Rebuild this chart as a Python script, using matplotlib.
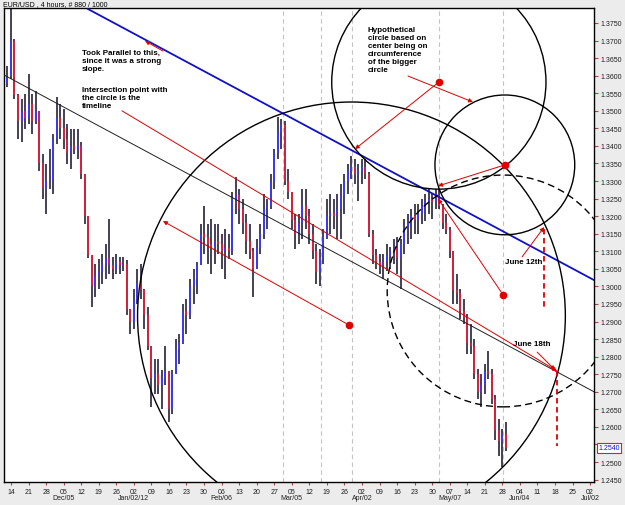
import numpy as np
import matplotlib
matplotlib.use("Agg")
import matplotlib.pyplot as plt
from matplotlib.patches import Ellipse
import matplotlib.transforms as mtransforms

plt.rcParams['font.family'] = ['Liberation Sans', 'DejaVu Sans']

# ---------------- data (trading-day index: 0 = Mon 14 Nov 2011) ----------------
day_index = list(range(-1, 142))
first_open = 1.3580
highs = [1.3627, 1.3790, 1.3704, 1.3548, 1.3533, 1.3548, 1.3605, 1.3548, 1.3556, 1.3500,
         1.3377, 1.3348, 1.3391, 1.3434, 1.3539, 1.3519, 1.3505, 1.3462, 1.3448, 1.3448,
         1.3448, 1.3410, 1.3320, 1.3200, 1.3090, 1.3063, 1.3077, 1.3092, 1.3120, 1.3191,
         1.3083, 1.3092, 1.3083, 1.3083, 1.3075, 1.2935, 1.2992, 1.3049, 1.3063, 1.2992,
         1.2940, 1.2830, 1.2792, 1.2792, 1.2763, 1.2830, 1.2760, 1.2763, 1.2849, 1.2864,
         1.2950, 1.2964, 1.3020, 1.3049, 1.3070, 1.3177, 1.3228, 1.3177, 1.3191, 1.3177,
         1.3177, 1.3149, 1.3163, 1.3149, 1.3270, 1.3311, 1.3277, 1.3248, 1.3206, 1.3177,
         1.3109, 1.3134, 1.3177, 1.3263, 1.3248, 1.3320, 1.3391, 1.3482, 1.3476, 1.3470,
         1.3334, 1.3270, 1.3206, 1.3206, 1.3277, 1.3277, 1.3220, 1.3177, 1.3120, 1.3106,
         1.3163, 1.3248, 1.3263, 1.3248, 1.3263, 1.3291, 1.3320, 1.3348, 1.3371, 1.3362,
         1.3348, 1.3362, 1.3362, 1.3325, 1.3160, 1.3106, 1.3092, 1.3092, 1.3120, 1.3112,
         1.3134, 1.3140, 1.3134, 1.3191, 1.3206, 1.3220, 1.3234, 1.3234, 1.3248, 1.3263,
         1.3277, 1.3263, 1.3277, 1.3277, 1.3234, 1.3206, 1.3170, 1.3100, 1.3035, 1.2992,
         1.2964, 1.2921, 1.2892, 1.2849, 1.2764, 1.2750, 1.2778, 1.2815, 1.2764, 1.2690,
         1.2622, 1.2593, 1.2613]
lows = [1.3568, 1.3590, 1.3533, 1.3420, 1.3411, 1.3448, 1.3462, 1.3434, 1.3462, 1.3328,
        1.3248, 1.3206, 1.3277, 1.3263, 1.3405, 1.3419, 1.3391, 1.3348, 1.3334, 1.3376,
        1.3362, 1.3305, 1.3177, 1.3080, 1.2941, 1.2970, 1.2992, 1.3006, 1.3020, 1.3035,
        1.3020, 1.3035, 1.3035, 1.3043, 1.2920, 1.2864, 1.2878, 1.2950, 1.2964, 1.2878,
        1.2820, 1.2656, 1.2693, 1.2693, 1.2650, 1.2720, 1.2613, 1.2636, 1.2750, 1.2778,
        1.2835, 1.2864, 1.2906, 1.2950, 1.2978, 1.3060, 1.3092, 1.3063, 1.3035, 1.3063,
        1.3092, 1.3049, 1.3020, 1.3077, 1.3090, 1.3206, 1.3177, 1.3149, 1.3092, 1.3077,
        1.2969, 1.3049, 1.3092, 1.3134, 1.3163, 1.3220, 1.3277, 1.3362, 1.3391, 1.3290,
        1.3248, 1.3163, 1.3106, 1.3120, 1.3134, 1.3163, 1.3120, 1.3077, 1.3006, 1.3000,
        1.3063, 1.3134, 1.3149, 1.3163, 1.3134, 1.3134, 1.3206, 1.3263, 1.3305, 1.3291,
        1.3243, 1.3291, 1.3305, 1.3140, 1.3063, 1.3049, 1.3035, 1.3020, 1.3043, 1.3049,
        1.3063, 1.3035, 1.2992, 1.3092, 1.3120, 1.3134, 1.3149, 1.3149, 1.3177, 1.3186,
        1.3206, 1.3191, 1.3220, 1.3220, 1.3163, 1.3149, 1.3080, 1.2950, 1.2950, 1.2906,
        1.2892, 1.2807, 1.2807, 1.2735, 1.2678, 1.2658, 1.2693, 1.2735, 1.2664, 1.2564,
        1.2516, 1.2487, 1.2530]
closes = [1.3600, 1.3700, 1.3545, 1.3470, 1.3500, 1.3480, 1.3520, 1.3470, 1.3500, 1.3350,
          1.3280, 1.3300, 1.3300, 1.3420, 1.3480, 1.3450, 1.3420, 1.3380, 1.3400, 1.3390,
          1.3400, 1.3320, 1.3200, 1.3090, 1.3000, 1.3030, 1.3040, 1.3060, 1.3080, 1.3060,
          1.3050, 1.3070, 1.3060, 1.3065, 1.2935, 1.2900, 1.2960, 1.3010, 1.2990, 1.2920,
          1.2830, 1.2740, 1.2750, 1.2720, 1.2740, 1.2760, 1.2650, 1.2750, 1.2820, 1.2840,
          1.2930, 1.2920, 1.3000, 1.3020, 1.3060, 1.3150, 1.3140, 1.3120, 1.3110, 1.3130,
          1.3120, 1.3100, 1.3110, 1.3100, 1.3250, 1.3260, 1.3220, 1.3180, 1.3130, 1.3100,
          1.3050, 1.3110, 1.3150, 1.3220, 1.3230, 1.3300, 1.3380, 1.3440, 1.3460, 1.3300,
          1.3270, 1.3190, 1.3150, 1.3180, 1.3230, 1.3200, 1.3150, 1.3100, 1.3040, 1.3080,
          1.3140, 1.3200, 1.3210, 1.3200, 1.3220, 1.3260, 1.3300, 1.3330, 1.3340, 1.3320,
          1.3330, 1.3340, 1.3320, 1.3150, 1.3090, 1.3070, 1.3060, 1.3070, 1.3090, 1.3100,
          1.3110, 1.3080, 1.3120, 1.3170, 1.3180, 1.3200, 1.3190, 1.3210, 1.3230, 1.3240,
          1.3250, 1.3240, 1.3260, 1.3230, 1.3180, 1.3160, 1.3100, 1.2990, 1.2980, 1.2930,
          1.2910, 1.2840, 1.2830, 1.2750, 1.2700, 1.2720, 1.2760, 1.2750, 1.2680, 1.2590,
          1.2560, 1.2580, 1.2540]
last_price = 1.2540

week_labels = ["14", "21", "28", "05", "12", "19", "26", "02", "09", "16", "23", "30",
               "06", "13", "20", "27", "05", "12", "19", "26", "02", "09", "16", "23",
               "30", "07", "14", "21", "28", "04", "11", "18", "25", "02"]
month_labels = {3: "Dec/05", 7: "Jan/02/12", 12: "Feb/06", 16: "Mar/05",
                20: "Apr/02", 25: "May/07", 29: "Jun/04", 33: "Jul/02"}
price_ticks = [1.2450, 1.2500, 1.2550, 1.2600, 1.2650, 1.2700, 1.2750, 1.2800, 1.2850,
               1.2900, 1.2950, 1.3000, 1.3050, 1.3100, 1.3150, 1.3200, 1.3250, 1.3300,
               1.3350, 1.3400, 1.3450, 1.3500, 1.3550, 1.3600, 1.3650, 1.3700, 1.3750]

# user drawings (day index, price)
blue_line_days = [21.9, 166.1]
blue_line_prices = [1.3790, 1.3018]
black_line_days = [-2.0, 166.1]
black_line_prices = [1.3602, 1.2700]
circle_centers_days = [97.0, 121.9, 140.7, 140.2]
circle_centers_prices = [1.2916, 1.3582, 1.3346, 1.2987]
circle_radii_price = [0.0609, 0.0305, 0.0199, 0.0330]
circle_dashed = [False, False, False, True]
dot_days = [121.9, 140.7, 96.3, 140.2]
dot_prices = [1.3582, 1.3346, 1.2890, 1.2976]
arrow_start_days = [43.3, 113.1, 121.9, 140.7, 140.2, 145.6, 149.9, 31.6, 96.3]
arrow_start_prices = [1.3670, 1.3599, 1.3582, 1.3346, 1.2976, 1.3084, 1.2813, 1.3500, 1.2890]
arrow_end_days = [38.2, 131.6, 98.0, 121.7, 121.7, 151.9, 155.0, 155.6, 43.3]
arrow_end_prices = [1.3699, 1.3525, 1.3391, 1.3286, 1.3249, 1.3169, 1.2762, 1.2759, 1.3186]
red_vline_days = [151.9, 155.6]
red_vline_top = [1.3164, 1.2759]
red_vline_bottom = [1.2936, 1.2546]
grid_vline_days = [77.5, 88.3, 97.2, 121.9, 140.2]

# ---------------- figure ----------------
W, H = 625, 506
fig = plt.figure(figsize=(W / 100, H / 100), dpi=100, facecolor='#ececec')
ax_l, ax_r, ax_t, ax_b = 4, 594, 9, 483
ax = fig.add_axes([ax_l / W, 1 - ax_b / H, (ax_r - ax_l) / W, (ax_b - ax_t) / H])
ax.set_facecolor('white')
xmin, xmax = -1.99, 166.1
ymin, ymax = 1.24431, 1.37927
ax.set_xlim(xmin, xmax)
ax.set_ylim(ymin, ymax)

# dashed verticals
for d in grid_vline_days:
    ax.axvline(d, color='#c4c4c4', lw=0.8, ls=(0, (4, 3)), zorder=1)

# candles
x = np.array(day_index, dtype=float)
h = np.array(highs)
l = np.array(lows)
c = np.array(closes)
o = np.array([first_open] + closes[:-1])
ax.vlines(x, l, h, color='#26203a', lw=1.2, zorder=3)
up = c >= o
ax.vlines(x[up], o[up], c[up], color='#3a3af5', lw=1.4, zorder=4)
ax.vlines(x[~up], c[~up], o[~up], color='#d8203c', lw=1.4, zorder=4)

# trend lines
ax.plot(blue_line_days, blue_line_prices, color='#1010c8', lw=1.3, zorder=5)
ax.plot(black_line_days, black_line_prices, color='#202020', lw=0.7, zorder=5)

# circles (round on screen)
px_per_day = (ax_r - ax_l) / (xmax - xmin)
px_per_price = (ax_b - ax_t) / (ymax - ymin)
ratio = px_per_price / px_per_day
for cd, cp, r, dashed in zip(circle_centers_days, circle_centers_prices,
                             circle_radii_price, circle_dashed):
    e = Ellipse((cd, cp), width=2 * r * ratio, height=2 * r, fill=False,
                ec='black', lw=1.0, ls=(0, (5, 3)) if dashed else '-', zorder=5)
    ax.add_patch(e)

# red arrows
for sd, sp, ed, ep in zip(arrow_start_days, arrow_start_prices, arrow_end_days, arrow_end_prices):
    ax.annotate("", xy=(ed, ep), xytext=(sd, sp),
                arrowprops=dict(arrowstyle="-|>", color='#e00000', lw=0.7,
                                mutation_scale=6, shrinkA=0, shrinkB=0), zorder=6)

for d, t, b in zip(red_vline_days, red_vline_top, red_vline_bottom):
    ax.plot([d, d], [t, b], color='#e00000', lw=1.3, ls=(0, (3, 2)), zorder=6)

ax.plot(dot_days, dot_prices, 'o', color='#e00000', ms=4.5, zorder=7, ls='none')

# annotation texts (positions in axes fraction from pixel layout)
def afx(px):
    return (px - ax_l) / (ax_r - ax_l)

def afy(py):
    return (ax_b - py) / (ax_b - ax_t)

tkw = dict(fontsize=5.8, fontweight='bold', color='black', transform=ax.transAxes,
           ha='left', va='top', linespacing=1.2, zorder=8)
ax.text(afx(82), afy(50), "Took Parallel to this,\nsince it was a strong\nslope.", **tkw)
ax.text(afx(82), afy(87), "Intersection point with\nthe circle is the\ntimeline", **tkw)
ax.text(afx(368), afy(27), "Hypothetical\ncircle based on\ncenter being on\ncircumference\nof the bigger\ncircle", **tkw)
ax.text(afx(505), afy(259), "June 12th", **tkw)
ax.text(afx(513), afy(341), "June 18th", **tkw)

# axes styling
for s in ax.spines.values():
    s.set_color('black')
    s.set_linewidth(1.0)
ax.yaxis.tick_right()
ax.set_yticks(price_ticks)
# the 1.2550 label is covered by the last-price tag
ax.set_yticklabels(["" if abs(p - last_price) < 0.003 else f"{p:.4f}" for p in price_ticks])
ax.tick_params(axis='y', direction='out', length=3, width=0.8, color='#b04848',
               labelsize=5, pad=1.5, labelcolor='#202020')
xt = [5 * i for i in range(len(week_labels))]
ax.set_xticks(xt)
ax.set_xticklabels(week_labels)
ax.tick_params(axis='x', direction='out', length=2.5, width=0.8, color='#b04848',
               labelsize=5, pad=2.0, labelcolor='#202020')
mtrans = mtransforms.blended_transform_factory(ax.transData, ax.transAxes)
for i, ml in month_labels.items():
    ax.text(xt[i], -(499 - ax_b) / (ax_b - ax_t), ml, transform=mtrans, fontsize=5,
            ha='center', va='center', color='#202020', clip_on=False)

# last price tag
trans = mtransforms.blended_transform_factory(ax.transAxes, ax.transData)
ax.text(1.0 + 4 / (ax_r - ax_l), last_price, f"{last_price:.4f}", transform=trans,
        fontsize=5, color='#1010d0', ha='left', va='center', clip_on=False, zorder=10,
        bbox=dict(boxstyle='square,pad=0.15', fc='white', ec='#e02020', lw=0.8))

# header
fig.text(3 / W, 1 - 4.5 / H, "EUR/USD , 4 hours, # 880 / 1000", fontsize=5,
         ha='left', va='center', color='black')

fig.savefig("out.png", dpi=100, facecolor=fig.get_facecolor())
